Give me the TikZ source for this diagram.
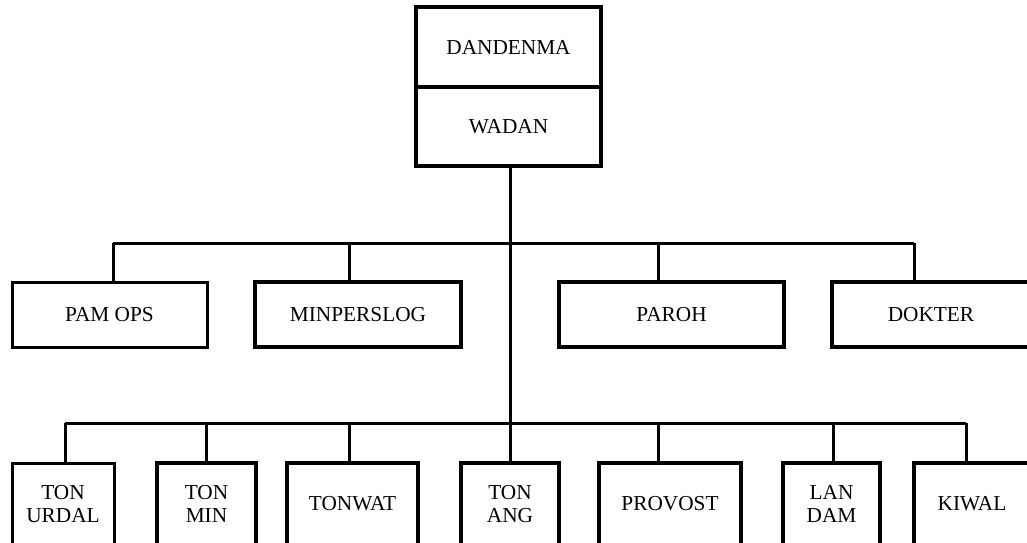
\documentclass[tikz,border=0pt]{standalone}
\usepackage{fontspec}
\setmainfont{Liberation Serif}
\begin{document}
\begin{tikzpicture}[x=1pt,y=-1pt,
  box/.style={draw,line width=3pt,rectangle,inner sep=0pt,outer sep=0pt,align=center,
    font=\fontsize{21.3}{23.5}\selectfont},
  thick box/.style={box,line width=4pt},
  conn/.style={line width=3pt}]
\useasboundingbox (0,0) rectangle (1027,542);
% top
\node[thick box,minimum width=185,minimum height=80] (dan) at (508.5,47) {DANDENMA};
\node[thick box,minimum width=185,minimum height=79] (wad) at (508.5,126.5) {WADAN};
% middle row
\node[box,minimum width=195,minimum height=65] (pam) at (109.5,314.5) {PAM OPS};
\node[thick box,minimum width=206,minimum height=65] (minp) at (358,314.5) {MINPERSLOG};
\node[thick box,minimum width=225,minimum height=65] (paroh) at (671.5,314.5) {PAROH};
\node[thick box,minimum width=198,minimum height=65] (dok) at (931,314.5) {DOKTER};
% bottom row
\node[box,minimum width=102,minimum height=82] (urdal) at (63,504) {TON\\URDAL};
\node[thick box,minimum width=99,minimum height=82] (tmin) at (206.5,504) {TON\\MIN};
\node[thick box,minimum width=131,minimum height=82] (twat) at (352.5,504) {TONWAT};
\node[thick box,minimum width=98,minimum height=82] (tang) at (510,504) {TON\\ANG};
\node[thick box,minimum width=142,minimum height=82] (prov) at (670,504) {PROVOST};
\node[thick box,minimum width=97,minimum height=82] (ldam) at (831.5,504) {LAN\\DAM};
\node[thick box,minimum width=116,minimum height=82] (kiwal) at (972,504) {KIWAL};
% bus coordinates
\coordinate (top) at (510,166);
\coordinate (m1) at (113,243);
\coordinate (m2) at (349,243);
\coordinate (m3) at (658,243);
\coordinate (m4) at (914,243);
\coordinate (b1) at (65,423);
\coordinate (b2) at (206,423);
\coordinate (b3) at (349,423);
\coordinate (b4) at (510,423);
\coordinate (b5) at (658,423);
\coordinate (b6) at (833,423);
\coordinate (b7) at (966,423);
% connectors
\draw[conn] (top |- wad.south) -- (b4);
\draw[conn] (m1) -- (m4);
\draw[conn] (m1) -- (m1 |- pam.north);
\draw[conn] (m2) -- (m2 |- minp.north);
\draw[conn] (m3) -- (m3 |- paroh.north);
\draw[conn] (m4) -- (m4 |- dok.north);
\draw[conn] (b1) -- (b7);
\draw[conn] (b1) -- (b1 |- urdal.north);
\draw[conn] (b2) -- (b2 |- tmin.north);
\draw[conn] (b3) -- (b3 |- twat.north);
\draw[conn] (b4) -- (b4 |- tang.north);
\draw[conn] (b5) -- (b5 |- prov.north);
\draw[conn] (b6) -- (b6 |- ldam.north);
\draw[conn] (b7) -- (b7 |- kiwal.north);
\end{tikzpicture}
\end{document}
